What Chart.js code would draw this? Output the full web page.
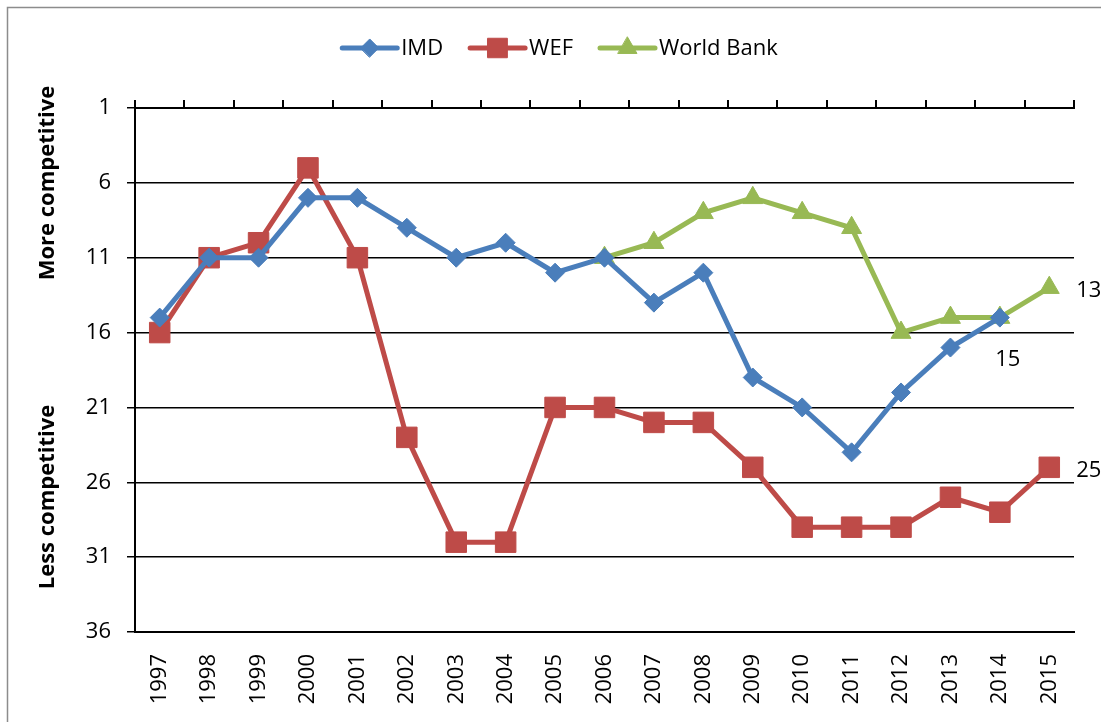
<!DOCTYPE html>
<html>
<head>
<meta charset="utf-8">
<script src="https://cdn.jsdelivr.net/npm/chart.js@4/dist/chart.umd.min.js"></script>
<style>
  html, body { margin: 0; padding: 0; background: #fff; }
  #wrap { width: 1101px; height: 722px; position: relative; }
</style>
</head>
<body>
<div id="wrap"><canvas id="c" width="1101" height="722"></canvas></div>
<script>
const years = ['1997','1998','1999','2000','2001','2002','2003','2004','2005','2006','2007','2008','2009','2010','2011','2012','2013','2014','2015'];
const imd = [15, 11, 11, 7, 7, 9, 11, 10, 12, 11, 14, 12, 19, 21, 24, 20, 17, 15, null];
const wef = [16, 11, 10, 5, 11, 23, 30, 30, 21, 21, 22, 22, 25, 29, 29, 29, 27, 28, 25];
const worldBank = [null, null, null, null, null, null, null, null, null, 11, 10, 8, 7, 8, 9, 16, 15, 15, 13];
const yTicks = [1, 6, 11, 16, 21, 26, 31, 36];
const seriesNames = ['IMD', 'WEF', 'World Bank'];
const yTitleTop = 'More competitive';
const yTitleBottom = 'Less competitive';
// value labels: [dataset index, point index, position]
const valueLabels = [[2, 18, 'right'], [1, 18, 'right'], [0, 17, 'below']];

const FONT = '"Open Sans", "DejaVu Sans", sans-serif';
const colors = ['#4A7EBB', '#BE4B48', '#98B954'];
const styles = ['rectRot', 'rect', 'triangle'];
const radii = [9.5, 14.5, 11.5];

const bgPlugin = {
  id: 'bg',
  beforeDraw(chart) {
    const ctx = chart.ctx;
    ctx.save();
    ctx.fillStyle = '#fff';
    ctx.fillRect(0, 0, chart.width, chart.height);
    ctx.strokeStyle = '#8C8C8C';
    ctx.lineWidth = 1.5;
    ctx.strokeRect(7.5, 7.5, chart.width + 20, chart.height + 20);
    ctx.restore();
  }
};

const extrasPlugin = {
  id: 'extras',
  afterDraw(chart) {
    const ctx = chart.ctx;
    // y-axis titles
    [[yTitleTop, 183], [yTitleBottom, 497]].forEach(([t, cy]) => {
      ctx.save();
      ctx.fillStyle = '#000';
      ctx.font = 'bold 22px ' + FONT;
      ctx.textAlign = 'center';
      ctx.textBaseline = 'middle';
      ctx.translate(48, cy);
      ctx.rotate(-Math.PI / 2);
      ctx.fillText(t, 0, 0);
      ctx.restore();
    });

    // value labels
    ctx.save();
    ctx.fillStyle = '#000';
    ctx.font = '22px ' + FONT;
    ctx.textBaseline = 'middle';
    valueLabels.forEach(([di, pi, pos]) => {
      const pt = chart.getDatasetMeta(di).data[pi];
      const v = chart.data.datasets[di].data[pi];
      if (pos === 'right') {
        ctx.textAlign = 'left';
        ctx.fillText(String(v), pt.x + 27, pt.y + 3);
      } else {
        ctx.textAlign = 'center';
        ctx.fillText(String(v), pt.x + 8, pt.y + 42);
      }
    });
    ctx.restore();

    // legend
    ctx.save();
    ctx.font = '22px ' + FONT;
    const lineLen = 55, gap = 4, spacing = 27;
    const widths = seriesNames.map(n => lineLen + gap + ctx.measureText(n).width);
    const total = widths.reduce((a, b) => a + b, 0) + spacing * (seriesNames.length - 1);
    let x = 560 - total / 2;
    const y = 48;
    seriesNames.forEach((n, i) => {
      ctx.strokeStyle = colors[i];
      ctx.lineWidth = 5;
      ctx.lineCap = 'round';
      ctx.beginPath();
      ctx.moveTo(x, y);
      ctx.lineTo(x + lineLen, y);
      ctx.stroke();
      ctx.fillStyle = colors[i];
      ctx.strokeStyle = colors[i];
      ctx.lineWidth = 1;
      Chart.helpers.drawPoint(ctx, { pointStyle: styles[i], radius: radii[i] * 0.95, borderWidth: 1, rotation: 0 }, x + lineLen / 2, y);
      ctx.fillStyle = '#000';
      ctx.textAlign = 'left';
      ctx.textBaseline = 'middle';
      ctx.fillText(n, x + lineLen + gap, y + 1);
      x += widths[i] + spacing;
    });
    ctx.restore();
  }
};

function ds(label, data, i) {
  return {
    label, data,
    borderColor: colors[i],
    backgroundColor: colors[i],
    pointBackgroundColor: colors[i],
    pointBorderColor: colors[i],
    pointStyle: styles[i],
    pointRadius: radii[i],
    pointBorderWidth: 1,
    borderWidth: 5,
    tension: 0,
    spanGaps: false,
    clip: false
  };
}

new Chart(document.getElementById('c'), {
  type: 'line',
  data: {
    labels: years,
    datasets: [ds(seriesNames[0], imd, 0), ds(seriesNames[1], wef, 1), ds(seriesNames[2], worldBank, 2)]
  },
  options: {
    responsive: false,
    animation: false,
    events: [],
    layout: { padding: { top: 0, left: 0, right: 27, bottom: 0 } },
    plugins: { legend: { display: false }, tooltip: { enabled: false } },
    scales: {
      x: {
        type: 'category',
        position: 'bottom',
        offset: true,
        grid: { display: false },
        border: { display: true, color: '#000', width: 2 },
        ticks: {
          color: '#000',
          font: { family: FONT, size: 22 },
          minRotation: 90, maxRotation: 90,
          padding: 14,
          autoSkip: false
        },
        afterFit(s) { s.height = 90; }
      },
      x2: {
        type: 'category',
        position: 'top',
        labels: years,
        offset: true,
        grid: { offset: true, drawOnChartArea: false, drawTicks: true, tickLength: 8, color: '#000', lineWidth: 2 },
        border: { display: true, color: '#000', width: 2 },
        ticks: { display: false },
        afterFit(s) { s.height = 108; }
      },
      y: {
        reverse: true,
        min: 1, max: 36,
        afterBuildTicks(s) { s.ticks = yTicks.map(v => ({ value: v })); },
        grid: { color: '#000', lineWidth: 1.5, drawTicks: true, tickLength: 8, tickColor: '#000' },
        border: { display: true, color: '#000', width: 2 },
        ticks: { color: '#000', font: { family: FONT, size: 22 }, padding: 16 },
        afterFit(s) { s.width = 135; }
      }
    }
  },
  plugins: [bgPlugin, extrasPlugin]
});
</script>
</body>
</html>
